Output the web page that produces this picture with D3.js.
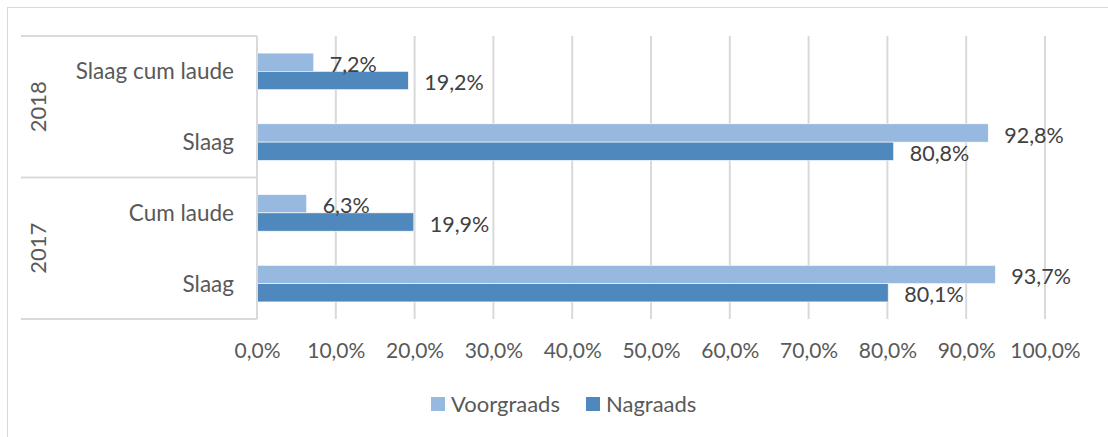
<!DOCTYPE html>
<html>
<head>
<meta charset="utf-8">
<script src="https://cdn.jsdelivr.net/npm/d3@7"></script>
<style>
  body { margin: 0; background: #fff; }
  text { font-family: Lato, "Open Sans", sans-serif; }
</style>
</head>
<body>
<svg width="1108" height="437"></svg>
<script>
// data
const groups = ["2018", "2017"];
const categories = ["2018|Slaag cum laude", "2018|Slaag", "2017|Cum laude", "2017|Slaag"];
const series = ["Voorgraads", "Nagraads"];
const voorgraads = [7.2, 92.8, 6.3, 93.7];
const nagraads = [19.2, 80.8, 19.9, 80.1];
const ticks = [0, 10, 20, 30, 40, 50, 60, 70, 80, 90, 100];
const colors = ["#97b9e0", "#4f88bd"];

let svg = d3.select("svg"),
    width = +svg.attr("width"),
    height = +svg.attr("height");

// rand
svg.append("rect")
    .attr("x", 7.5).attr("y", 7.5)
    .attr("width", width + 10).attr("height", height + 10)
    .attr("fill", "none").attr("stroke", "#d9d9d9");

const plotLeft = 257, plotRight = 1045, plotTop = 36, plotBottom = 319;
const fs = 21.5;

let x = d3.scaleLinear().domain([0, 100]).range([plotLeft, plotRight]);
let y = d3.scaleBand().domain(categories).range([plotTop, plotBottom]);
let sub = d3.scaleBand().domain(series).range([0, 36.6]);

// gridlines
svg.append("g").selectAll("line")
    .data(ticks.slice(1))
    .enter().append("line")
    .attr("x1", d => x(d)).attr("x2", d => x(d))
    .attr("y1", plotTop).attr("y2", plotBottom)
    .attr("stroke", "#d9d9d9").attr("stroke-width", 2);

// tick labels
let xAxis = svg.append("g")
    .attr("transform", `translate(0,${plotBottom + 21})`)
    .call(d3.axisBottom(x).tickValues(ticks).tickSize(0)
        .tickFormat(d => d.toFixed(1).replace(".", ",") + "%"));
xAxis.select(".domain").remove();
xAxis.selectAll("text")
    .attr("font-family", "Lato, sans-serif")
    .attr("font-size", 21)
    .attr("fill", "#595959");

// bars
let rows = categories.map((c, i) => ({ cat: c, vals: [voorgraads[i], nagraads[i]] }));
let rowG = svg.append("g").selectAll("g")
    .data(rows).enter().append("g")
    .attr("transform", d => `translate(0,${y(d.cat) + y.bandwidth() / 2 - 18.3})`);

rowG.selectAll("rect")
    .data(d => d.vals.map((v, j) => ({ s: series[j], v: v, j: j })))
    .enter().append("rect")
    .attr("x", x(0))
    .attr("y", d => sub(d.s))
    .attr("width", d => x(d.v) - x(0))
    .attr("height", sub.bandwidth())
    .attr("fill", d => colors[d.j])
    .attr("stroke", "#fff").attr("stroke-width", 0.6);

rowG.selectAll("text")
    .data(d => d.vals.map((v, j) => ({ s: series[j], v: v, j: j })))
    .enter().append("text")
    .attr("x", d => x(d.v) + 16)
    .attr("y", d => sub(d.s) + sub.bandwidth() / 2 + 2)
    .attr("dy", "0.35em")
    .attr("font-size", fs)
    .attr("fill", "#404040")
    .text(d => d.v.toFixed(1).replace(".", ",") + "%");

// category axis
let axisG = svg.append("g").attr("stroke", "#d9d9d9").attr("stroke-width", 2);
axisG.append("line")
    .attr("x1", x(0)).attr("x2", x(0)).attr("y1", plotTop).attr("y2", plotBottom);
[plotTop, (plotTop + plotBottom) / 2, plotBottom].forEach(v => {
    axisG.append("line").attr("x1", 21).attr("x2", x(0)).attr("y1", v).attr("y2", v);
});

svg.append("g").selectAll("text")
    .data(categories).enter().append("text")
    .attr("x", 234)
    .attr("y", d => y(d) + y.bandwidth() / 2)
    .attr("dy", "0.35em")
    .attr("text-anchor", "end")
    .attr("font-size", 22.5)
    .attr("fill", "#595959")
    .text(d => d.split("|")[1]);

svg.append("g").selectAll("text")
    .data(groups).enter().append("text")
    .attr("transform", (d, i) => {
        let cy = plotTop + (plotBottom - plotTop) / 4 + i * (plotBottom - plotTop) / 2;
        return `translate(38,${cy}) rotate(-90)`;
    })
    .attr("text-anchor", "middle")
    .attr("dy", "0.35em")
    .attr("font-size", 22)
    .attr("fill", "#595959")
    .text(d => d);

// legende
let leg = svg.append("g").attr("transform", "translate(431,397)");
let legX = [0, 155];
series.forEach((s, i) => {
    leg.append("rect").attr("x", legX[i]).attr("y", 0)
        .attr("width", 14).attr("height", 14).attr("fill", colors[i]);
    leg.append("text").attr("x", legX[i] + 20).attr("y", 7)
        .attr("dy", "0.35em").attr("font-size", 22).attr("fill", "#595959")
        .text(s);
});
</script>
</body>
</html>
